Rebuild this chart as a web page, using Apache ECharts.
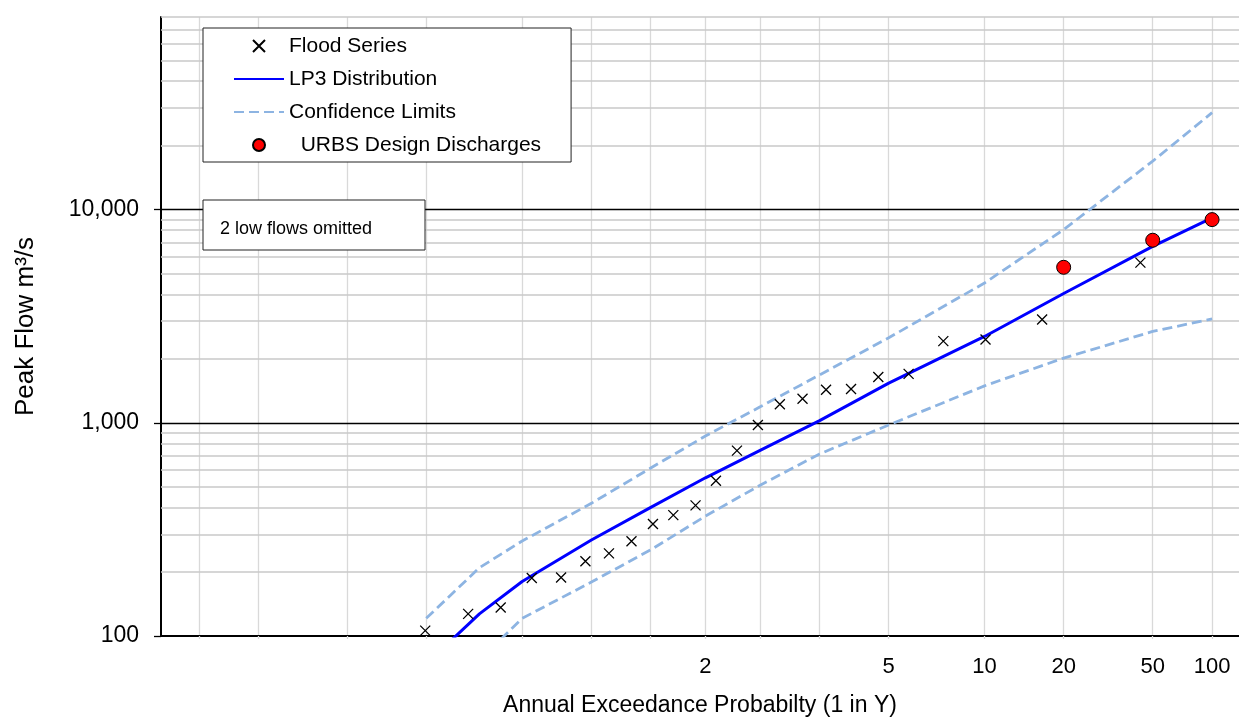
<!DOCTYPE html>
<html>
<head>
<meta charset="utf-8">
<title>Flood Frequency</title>
<script src="https://cdn.jsdelivr.net/npm/echarts@6/dist/echarts.min.js"></script>
<style>
  html, body { margin: 0; padding: 0; background: #fff; }
  #chart { width: 1239px; height: 718px; }
</style>
</head>
<body>
<div id="chart"></div>
<script>
// flood series: plotting position (1 in Y) and peak flow (m3/s)
var floodAri = [43.67, 16.38, 10.08, 7.28, 5.70, 4.68, 3.97, 3.45, 3.05, 2.73, 2.47, 2.26,
  2.08, 1.93, 1.79, 1.68, 1.58, 1.49, 1.41, 1.34, 1.27, 1.21, 1.16, 1.11];
var floodQ = [5640, 3050, 2460, 2415, 1695, 1640, 1440, 1428, 1296, 1222, 976, 740,
  535, 410, 369, 335, 278, 244, 224, 188, 187, 136, 127, 106];

// fitted LP3 curve and confidence limits, all on the same 1 in Y values
var curveAri = [1.111, 1.176, 1.25, 1.429, 1.667, 2, 2.5, 3.333, 5, 10, 20, 50, 100];
var lp3Q = [74, 127, 180, 282, 400, 552, 745, 1023, 1534, 2540, 4040, 6720, 9140];
var upperQ = [121, 209, 279, 419, 612, 867, 1191, 1678, 2504, 4525, 8054, 16870, 28470];
var lowerQ = [null, 77, 121, 179, 253, 365, 511, 714, 977, 1490, 2011, 2681, 3070];

// URBS design discharges
var urbsAri = [20, 50, 100];
var urbsQ = [5360, 7180, 8970];

// axis ticks
var xLabelAri = [2, 5, 10, 20, 50, 100];
var xGridAep = [0.99, 0.98, 0.95, 0.9, 0.8, 0.7, 0.6, 0.5, 0.4, 0.3, 0.2, 0.1, 0.05, 0.02, 0.01];
var yLabels = [100, 1000, 10000];
var yGridMinor = [200, 300, 400, 500, 600, 700, 800, 900, 2000, 3000, 4000, 5000, 6000,
  7000, 8000, 9000, 20000, 30000, 40000, 50000, 60000, 70000, 80000];
var yGridMajor = [1000, 10000];

// inverse standard normal (Acklam) - the probability paper scale
function normInv(p) {
  var a = [-3.969683028665376e+01, 2.209460984245205e+02, -2.759285104469687e+02, 1.383577518672690e+02, -3.066479806614716e+01, 2.506628277459239e+00];
  var b = [-5.447609879822406e+01, 1.615858368580409e+02, -1.556989798598866e+02, 6.680131188771972e+01, -1.328068155288572e+01];
  var c = [-7.784894002430293e-03, -3.223964580411365e-01, -2.400758277161838e+00, -2.549732539343734e+00, 4.374664141464968e+00, 2.938163982698783e+00];
  var d = [7.784695709041462e-03, 3.224671290700398e-01, 2.445134137142996e+00, 3.754408661907416e+00];
  var pl = 0.02425, q, r;
  if (p < pl) {
    q = Math.sqrt(-2 * Math.log(p));
    return (((((c[0] * q + c[1]) * q + c[2]) * q + c[3]) * q + c[4]) * q + c[5]) / ((((d[0] * q + d[1]) * q + d[2]) * q + d[3]) * q + 1);
  }
  if (p > 1 - pl) {
    q = Math.sqrt(-2 * Math.log(1 - p));
    return -(((((c[0] * q + c[1]) * q + c[2]) * q + c[3]) * q + c[4]) * q + c[5]) / ((((d[0] * q + d[1]) * q + d[2]) * q + d[3]) * q + 1);
  }
  q = p - 0.5; r = q * q;
  return (((((a[0] * r + a[1]) * r + a[2]) * r + a[3]) * r + a[4]) * r + a[5]) * q / (((((b[0] * r + b[1]) * r + b[2]) * r + b[3]) * r + b[4]) * r + 1);
}
function zAep(aep) { return normInv(1 - aep); }
function zAri(ari) { return zAep(1 / ari); }

function pairs(ari, q) {
  var out = [];
  for (var i = 0; i < ari.length; i++) {
    if (q[i] != null) out.push([zAri(ari[i]), q[i]]);
  }
  return out;
}

var font = '"Liberation Sans", Arial, sans-serif';
var labelZ = xLabelAri.map(zAri);
var gridZ = xGridAep.map(zAep);

var chartDom = document.getElementById('chart');
var myChart = echarts.init(chartDom);

var option = {
  animation: false,
  textStyle: { fontFamily: font },
  grid: { left: 161, right: 0, top: 17, bottom: 82, containLabel: false, outerBoundsMode: 'none' },
  legend: {
    orient: 'vertical',
    left: 203,
    top: 28,
    itemWidth: 50,
    itemHeight: 12,
    itemGap: 12,
    padding: [7.5, 30, 6.5, 30],
    backgroundColor: '#fff',
    borderColor: '#222',
    borderWidth: 1,
    selectedMode: false,
    textStyle: { fontSize: 21, lineHeight: 21, color: '#000', fontFamily: font },
    data: [
      'Flood Series',
      { name: 'LP3 Distribution', itemStyle: { opacity: 0 } },
      { name: 'Confidence Limits', itemStyle: { opacity: 0 } },
      'URBS Design Discharges'
    ],
    formatter: function (name) {
      return name === 'URBS Design Discharges' ? '  ' + name : name;
    }
  },
  graphic: [
    {
      type: 'group',
      left: 202.5,
      top: 199.5,
      z: 100,
      children: [
        { type: 'rect', z: 100, shape: { x: 0, y: 0, width: 222, height: 50 },
          style: { fill: '#fff', stroke: '#222', lineWidth: 1 } },
        { type: 'text', z: 101, x: 17, y: 29,
          style: { text: '2 low flows omitted', fontSize: 18, fill: '#000',
                   fontFamily: font, verticalAlign: 'middle' } }
      ]
    }
  ],
  xAxis: {
    type: 'value',
    min: -2.5,
    max: 2.45,
    name: 'Annual Exceedance Probabilty (1 in Y)',
    nameLocation: 'middle',
    nameGap: 58,
    nameTextStyle: { fontSize: 23, color: '#000', fontFamily: font },
    axisLine: { onZero: false, lineStyle: { color: '#000', width: 2 } },
    axisTick: { show: true, customValues: gridZ, length: 3, lineStyle: { color: '#d9d9d9', width: 1.3 } },
    axisLabel: {
      customValues: labelZ,
      fontSize: 22,
      color: '#000',
      margin: 20,
      formatter: function (v) {
        for (var i = 0; i < labelZ.length; i++) {
          if (Math.abs(labelZ[i] - v) < 1e-6) return String(xLabelAri[i]);
        }
        return '';
      }
    },
    splitLine: { show: true, lineStyle: { color: '#d9d9d9', width: 1.3 } }
  },
  yAxis: {
    type: 'log',
    logBase: 10,
    min: 100,
    max: 80000,
    name: 'Peak Flow m³/s',
    nameLocation: 'middle',
    nameGap: 122,
    nameTextStyle: { fontSize: 26, color: '#000', fontFamily: font },
    axisLine: { show: true, onZero: false, lineStyle: { color: '#000', width: 2 } },
    axisTick: { show: true, length: 7, customValues: yLabels, lineStyle: { color: '#000', width: 1.3 } },
    axisLabel: {
      customValues: yLabels,
      fontSize: 23,
      color: '#000',
      margin: 22,
      formatter: function (v) { return Number(v).toLocaleString('en-US'); }
    },
    splitLine: { show: false }
  },
  series: [
    {
      name: 'gridlines',
      type: 'line',
      data: [],
      silent: true,
      markLine: {
        silent: true,
        symbol: 'none',
        z: 1,
        animation: false,
        label: { show: false },
        emphasis: { disabled: true },
        data: yGridMinor.map(function (v) {
          return { yAxis: v, lineStyle: { color: '#c8c8c8', width: 1.5, type: 'solid' } };
        }).concat(yGridMajor.map(function (v) {
          return { yAxis: v, lineStyle: { color: '#000', width: 1.3, type: 'solid' } };
        }))
      }
    },
    {
      name: 'Confidence Limits',
      type: 'line',
      symbol: 'none',
      z: 3,
      lineStyle: { color: '#8db4e2', width: 2.8, type: [10, 5] },
      itemStyle: { color: '#8db4e2' },
      data: pairs(curveAri, upperQ)
    },
    {
      name: 'Confidence Limits',
      type: 'line',
      symbol: 'none',
      z: 3,
      lineStyle: { color: '#8db4e2', width: 2.8, type: [10, 5] },
      itemStyle: { color: '#8db4e2' },
      data: pairs(curveAri, lowerQ)
    },
    {
      name: 'LP3 Distribution',
      type: 'line',
      symbol: 'none',
      z: 4,
      lineStyle: { color: '#0000ff', width: 3 },
      itemStyle: { color: '#0000ff' },
      data: pairs(curveAri, lp3Q)
    },
    {
      name: 'Flood Series',
      type: 'scatter',
      symbol: 'path://M0,0L10,10M0,10L10,0',
      symbolKeepAspect: true,
      symbolSize: 10,
      z: 5,
      itemStyle: { color: '#000', borderColor: '#000', borderWidth: 1.3, opacity: 1 },
      data: pairs(floodAri, floodQ)
    },
    {
      name: 'URBS Design Discharges',
      type: 'scatter',
      symbol: 'circle',
      symbolSize: 14,
      z: 6,
      itemStyle: { color: '#ff0000', borderColor: '#000', borderWidth: 1, opacity: 1 },
      data: pairs(urbsAri, urbsQ)
    }
  ]
};

myChart.setOption(option);

window.onresize = () => {
  myChart.resize();
};
</script>
</body>
</html>
